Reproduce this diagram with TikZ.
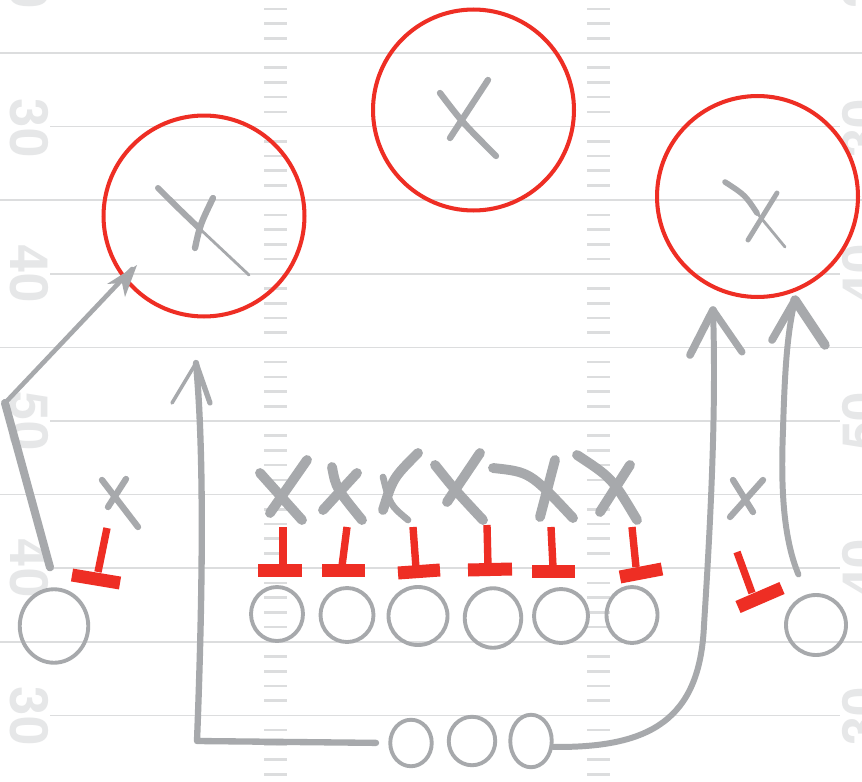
\documentclass[tikz,border=0pt]{standalone}
\usepackage{fontspec}
\setsansfont{TeX Gyre Heros}
\usetikzlibrary{shapes.geometric}
\definecolor{fieldline}{HTML}{DCDDDE}
\definecolor{yardgray}{HTML}{E6E7E8}
\definecolor{chalk}{HTML}{A7A9AC}
\definecolor{marker}{HTML}{EE2E24}

\begin{document}
\begin{tikzpicture}[x=0.02cm,y=-0.02cm,
  player/.style={ellipse,draw=chalk,line width=2.2pt,inner sep=0pt},
  zone/.style={circle,draw=marker,line width=2.3pt,inner sep=0pt,minimum size=4.02cm},
  route/.style={chalk,line width=3.6pt,line cap=round,line join=round},
  xstroke/.style={chalk,line width=5.6pt,line cap=round},
  stem/.style={marker,line width=4.2pt},
  bar/.style={marker,line width=7.4pt},
  numtext/.style={text=yardgray,font=\sffamily\bfseries\fontsize{30}{30}\selectfont,inner sep=0pt}]
  \useasboundingbox (0,0) rectangle (862,781);
  \clip (0,0) rectangle (862,781);
  \fill[white] (0,0) rectangle (862,781);

  \draw[fieldline,line width=1pt] (0,53) -- (862,53);
  \draw[fieldline,line width=1pt] (50,126.6) -- (840,126.6);
  \draw[fieldline,line width=1pt] (0,200.2) -- (862,200.2);
  \draw[fieldline,line width=1pt] (50,273.8) -- (840,273.8);
  \draw[fieldline,line width=1pt] (0,347.4) -- (862,347.4);
  \draw[fieldline,line width=1pt] (50,421) -- (840,421);
  \draw[fieldline,line width=1pt] (0,494.6) -- (862,494.6);
  \draw[fieldline,line width=1pt] (50,568.2) -- (840,568.2);
  \draw[fieldline,line width=1pt] (0,641.8) -- (862,641.8);
  \draw[fieldline,line width=1pt] (50,715.4) -- (840,715.4);
  \foreach \k in {-1,...,9}
    \foreach \j in {1,...,4} {
      \draw[fieldline,line width=1.5pt] (264,{53+73.6*\k+14.72*\j}) -- (287,{53+73.6*\k+14.72*\j});
      \draw[fieldline,line width=1.5pt] (587,{53+73.6*\k+14.72*\j}) -- (610,{53+73.6*\k+14.72*\j});
    }

  \node[numtext,rotate=-90] (l20) at (29,-20.6) {20};
  \node[numtext,rotate=-90] (l30a) at (29,128) {30};
  \node[numtext,rotate=-90] (l40a) at (29,273.8) {40};
  \node[numtext,rotate=-90] (l50) at (29,421) {50};
  \node[numtext,rotate=-90] (l40b) at (29,568.2) {40};
  \node[numtext,rotate=-90] (l30b) at (29,716) {30};
  \node[numtext,rotate=90] (r20) at (862,-20.6) {20};
  \node[numtext,rotate=90] (r30a) at (862,128) {30};
  \node[numtext,rotate=90] (r40a) at (862,273.8) {40};
  \node[numtext,rotate=90] (r50) at (862,421) {50};
  \node[numtext,rotate=90] (r40b) at (862,568.2) {40};
  \node[numtext,rotate=90] (r30b) at (862,716) {30};

  \node[zone] (zl) at (204,216) {};
  \node[zone] (zm) at (473.5,110) {};
  \node[zone] (zr) at (757.5,196.5) {};

  \draw[xstroke,line width=3.4pt] (158,188) .. controls (175,205) .. (200,229);
  \draw[xstroke,line width=1.6pt] (200,229) -- (249,275);
  \draw[xstroke,line width=3.6pt] (213,198) .. controls (200,225) .. (195,248);
  \draw[xstroke,line width=3.6pt] (440,93) .. controls (462,122) .. (496,156);
  \draw[xstroke,line width=3.6pt] (488,80) -- (450,138);
  \draw[xstroke,line width=3.2pt] (725,182) .. controls (745,195) .. (757,213);
  \draw[xstroke,line width=1.6pt] (757,213) -- (785,247);
  \draw[xstroke,line width=2.8pt] (777,193) -- (748,240);

  \draw[xstroke,line width=3.6pt] (102,480) -- (138,527);
  \draw[xstroke,line width=3.6pt] (126,479) -- (108,507);
  \draw[xstroke,line width=3.6pt] (733,480) -- (753,512);
  \draw[xstroke,line width=3.6pt] (763,480) -- (730,517);

  \draw[xstroke] (260,473) -- (302,520);
  \draw[xstroke] (307,460) -- (270,513);
  \draw[xstroke] (332,467) .. controls (336,488) .. (362,520);
  \draw[xstroke] (357,473) -- (323,510);
  \draw[xstroke] (418,453) .. controls (393,478) .. (383,510);
  \draw[xstroke,line width=3.8pt] (383,477) .. controls (390,505) .. (408,520);
  \draw[xstroke] (435,465) .. controls (455,490) .. (483,520);
  \draw[xstroke] (480,453) -- (447,502);
  \draw[xstroke] (493,468) .. controls (530,472) .. (573,518);
  \draw[xstroke] (555,460) -- (540,517);
  \draw[xstroke] (577,455) .. controls (612,478) .. (637,520);
  \draw[xstroke] (630,465) -- (600,512);

  \draw[stem] (107,528) -- (98,572);
  \draw[bar] (72,575) -- (120,583);
  \draw[stem] (283,527) -- (283,566);
  \draw[bar] (258,570) -- (302,570);
  \draw[stem] (347,527) -- (342,566);
  \draw[bar] (322,570) -- (365,570);
  \draw[stem] (413,527) -- (416,568);
  \draw[bar] (398,573) -- (440,570);
  \draw[stem] (487,525) -- (488,566);
  \draw[bar] (468,570) -- (512,569);
  \draw[stem] (551,527) -- (553,567);
  \draw[bar] (532,571) -- (575,571);
  \draw[stem] (632,527) -- (636,567);
  \draw[bar] (620,577) -- (662,569);
  \draw[stem] (737,552) -- (752,593);
  \draw[bar] (738,607) -- (782,588);

  \node[player,minimum width=1.37cm,minimum height=1.47cm] (wr1) at (54,626) {};
  \node[player,minimum width=1.04cm,minimum height=1.08cm] (o1) at (277,614) {};
  \node[player,minimum width=1.06cm,minimum height=1.08cm] (o2) at (347,615) {};
  \node[player,minimum width=1.18cm,minimum height=1.16cm] (o3) at (418,616) {};
  \node[player,minimum width=1.13cm,minimum height=1.19cm] (o4) at (493,618) {};
  \node[player,minimum width=1.08cm,minimum height=1.08cm] (o5) at (561,616) {};
  \node[player,minimum width=1.02cm,minimum height=1.12cm] (o6) at (632,615) {};
  \node[player,minimum width=1.2cm,minimum height=1.2cm] (wr2) at (816,625) {};
  \node[player,minimum width=0.83cm,minimum height=0.93cm] (bk1) at (411,743) {};
  \node[player,minimum width=0.93cm,minimum height=0.97cm] (bk2) at (472,741) {};
  \node[player,minimum width=0.83cm,minimum height=1.05cm] (bk3) at (531,741) {};

  \coordinate (ra1) at (5,403);
  \coordinate (ra2) at (132,269);
  \draw[route,line width=4.6pt] ([xshift=-0.08cm,yshift=0.4cm]wr1.north) -- (ra1);
  \draw[route,line width=2.6pt] (ra1) -- (ra2);
  \fill[chalk] (137,265) -- (107,284) -- (122,283) -- (125,297) -- cycle;

  \coordinate (rb1) at (197,741);
  \coordinate (rb2) at (196,363);
  \draw[route,shorten <=7pt] (bk1.west) -- (rb1) .. controls (204,560) and (203,440) .. (rb2);
  \draw[route,line width=2pt] (rb2) -- (172,403);
  \draw[route,line width=3pt] (rb2) -- (210,403);

  \coordinate (rc1) at (704,625);
  \coordinate (rc2) at (713,310);
  \draw[route,line width=3.4pt] (bk3.-15) .. controls (650,748) and (700,720) .. (rc1) .. controls (712,500) and (716,400) .. (rc2);
  \draw[route,line width=4.4pt] (rc2) -- (690,355);
  \draw[route,line width=4pt] (rc2) -- (742,352);

  \coordinate (rd1) at (783,430);
  \coordinate (rd2) at (795,300);
  \draw[route,line width=3.4pt] ([xshift=0.1cm,yshift=0.56cm]wr2.north west) .. controls (782,535) and (781,480) .. (rd1) .. controls (785,360) and (788,330) .. (rd2);
  \draw[route,line width=4.4pt] (rd2) -- (772,340);
  \draw[route,line width=5.4pt] (rd2) -- (825,345);
\end{tikzpicture}
\end{document}
